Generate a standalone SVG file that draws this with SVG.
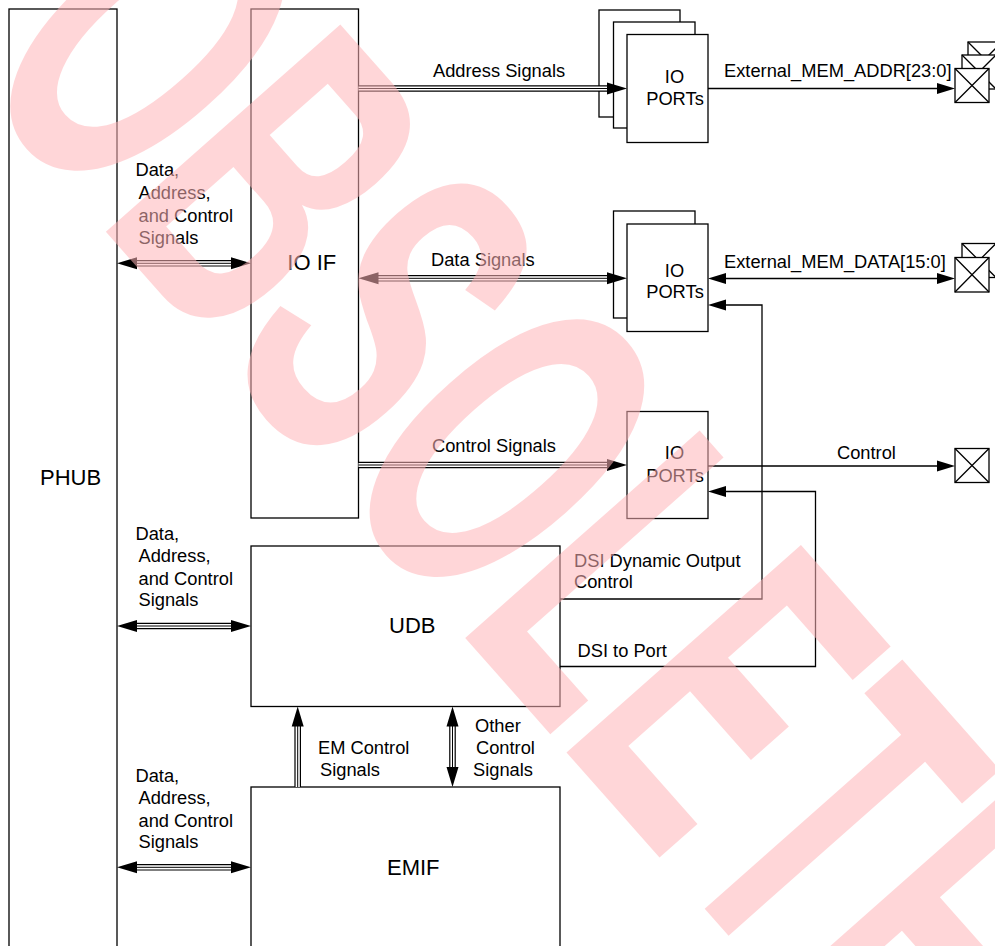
<svg xmlns="http://www.w3.org/2000/svg" width="995" height="946" viewBox="0 0 995 946">
<defs>
<style>
.box{fill:#fff;stroke:#000;stroke-width:1.3}
.t{font-family:"Liberation Sans",Arial,sans-serif;font-size:18.3px;fill:#000}
.big{font-size:22px}
.mid{text-anchor:middle}
.ln{fill:none;stroke:#000;stroke-width:1.3}
.b1{fill:none;stroke:#000;stroke-width:6.6}
.b2{fill:none;stroke:#fff;stroke-width:4.2}
.b3{fill:none;stroke:#000;stroke-width:1}
.ah{fill:#000}
.pad{fill:#fff;stroke:#000;stroke-width:1.3}
.wm{font-family:"Liberation Sans",Arial,sans-serif;font-weight:bold;font-size:455px;fill:#FFB5B8;fill-opacity:0.55}
</style>
</defs>
<rect width="995" height="946" fill="#fff"/>

<g id="phub"><rect class="box" x="9" y="9" width="108" height="960"/><text class="t big" x="40" y="485">PHUB</text></g>
<g id="ioif"><rect class="box" x="251" y="9" width="107.5" height="509"/><text class="t big" x="287.3" y="270">IO IF</text></g>
<g id="udb"><rect class="box" x="251" y="546" width="309" height="160.5"/><text class="t big" x="389" y="633">UDB</text></g>
<g id="emif"><rect class="box" x="251" y="787" width="309" height="200"/><text class="t big" x="387" y="875">EMIF</text></g>

<g id="ioports-addr">
<rect class="box" x="599" y="10" width="81" height="107"/>
<rect class="box" x="613.5" y="22" width="81.5" height="106"/>
<rect class="box" x="627" y="34.5" width="81" height="108"/>
<text class="t mid" x="674.5" y="83">IO</text><text class="t mid" x="675" y="105">PORTs</text>
</g>
<g id="ioports-data">
<rect class="box" x="613.5" y="211" width="81.5" height="107"/>
<rect class="box" x="627" y="224" width="81" height="107.5"/>
<text class="t mid" x="674.5" y="277">IO</text><text class="t mid" x="675" y="298">PORTs</text>
</g>
<g id="ioports-ctrl">
<rect class="box" x="627" y="411.5" width="81" height="107"/>
<text class="t mid" x="674.5" y="459">IO</text><text class="t mid" x="675" y="482">PORTs</text>
</g>

<g id="pad-addr">
<rect class="pad" x="968" y="42" width="34" height="34"/><path class="ln" d="M968,42L1002,76M1002,42L968,76"/>
<rect class="pad" x="962" y="55" width="34" height="34"/><path class="ln" d="M962,55L996,89M996,55L962,89"/>
<rect class="pad" x="955" y="68.5" width="34" height="34"/><path class="ln" d="M955,68.5L989,102.5M989,68.5L955,102.5"/>
</g>
<g id="pad-data">
<rect class="pad" x="962" y="243.5" width="34" height="34"/><path class="ln" d="M962,243.5L996,277.5M996,243.5L962,277.5"/>
<rect class="pad" x="955" y="257.5" width="34" height="34.5"/><path class="ln" d="M955,257.5L989,292M989,257.5L955,292"/>
</g>
<g id="pad-ctrl">
<rect class="pad" x="955" y="448.5" width="34" height="34"/><path class="ln" d="M955,448.5L989,482.5M989,448.5L955,482.5"/>
</g>

<g id="connectors">
<!-- buses -->
<path class="b1" d="M135,263.3H233M135,626H233M135,867.3H233M358.5,88.5H609M376,278.3H609M358.5,465H609M297.7,787V724.5M452.5,724.5V769"/>
<path class="b2" d="M135,263.3H233M135,626H233M135,867.3H233M358.5,88.5H609M376,278.3H609M358.5,465H609M297.7,787V724.5M452.5,724.5V769"/>
<path class="b3" d="M135,263.3H233M135,626H233M135,867.3H233M358.5,88.5H609M376,278.3H609M358.5,465H609M297.7,787V724.5M452.5,724.5V769"/>
<!-- bus arrowheads -->
<path class="ah" d="M117,263.3L137,257.3V269.3ZM251,263.3L231,257.3V269.3Z"/>
<path class="ah" d="M117,626L137,620V632ZM251,626L231,620V632Z"/>
<path class="ah" d="M117,867.3L137,861.3V873.3ZM251,867.3L231,861.3V873.3Z"/>
<path class="ah" d="M627,88.5L607,82.5V94.5Z"/>
<path class="ah" d="M358.5,278.3L378.5,272.3V284.3ZM627,278.3L607,272.3V284.3Z"/>
<path class="ah" d="M627,465L607,459V471Z"/>
<path class="ah" d="M297.7,706.5L291.7,726.5H303.7Z"/>
<path class="ah" d="M452.5,706.5L446.5,726.5H458.5ZM452.5,787L446.5,767H458.5Z"/>
<!-- single lines -->
<path class="ln" d="M708,88.5H940M724,278.5H940M708,466H940M560,599H762V305H724M560,666.5H815.5V491.5H724"/>
<path class="ah" d="M955,88.5L937,83V94Z"/>
<path class="ah" d="M955,278.5L937,273V284ZM708,278.5L726,273V284Z"/>
<path class="ah" d="M955,466L937,460.5V471.5Z"/>
<path class="ah" d="M708,305L726,299.5V310.5Z"/>
<path class="ah" d="M708,491.5L726,486V497Z"/>
</g>

<g id="labels">
<text class="t" x="433" y="76.5">Address Signals</text>
<text class="t" x="724" y="76.5">External_MEM_ADDR[23:0]</text>
<text class="t" x="431" y="265.7">Data Signals</text>
<text class="t" x="724" y="268">External_MEM_DATA[15:0]</text>
<text class="t" x="432" y="452">Control Signals</text>
<text class="t" x="837" y="459">Control</text>
<text class="t" x="574" y="566.5">DSI Dynamic Output</text>
<text class="t" x="574" y="588">Control</text>
<text class="t" x="577.5" y="657">DSI to Port</text>
<text class="t" x="318" y="754">EM Control</text>
<text class="t" x="320" y="775.5">Signals</text>
<text class="t" x="475" y="732">Other</text>
<text class="t" x="476" y="754">Control</text>
<text class="t" x="473" y="776">Signals</text>
<text class="t" x="135.5" y="176">Data,</text>
<text class="t" x="138.5" y="198.5">Address,</text>
<text class="t" x="138.5" y="221.5">and Control</text>
<text class="t" x="138.5" y="243.5">Signals</text>
<text class="t" x="135.5" y="540">Data,</text>
<text class="t" x="138.5" y="562.3">Address,</text>
<text class="t" x="138.5" y="584.7">and Control</text>
<text class="t" x="138.5" y="606.3">Signals</text>
<text class="t" x="135.5" y="782.3">Data,</text>
<text class="t" x="138.5" y="804.3">Address,</text>
<text class="t" x="138.5" y="826.7">and Control</text>
<text class="t" x="138.5" y="848.3">Signals</text>
</g>

<g id="watermark">
<text class="wm" transform="translate(-34.2,73.5) rotate(48.5) scale(0.55,1)">OBSOLETE</text>
</g>
</svg>
